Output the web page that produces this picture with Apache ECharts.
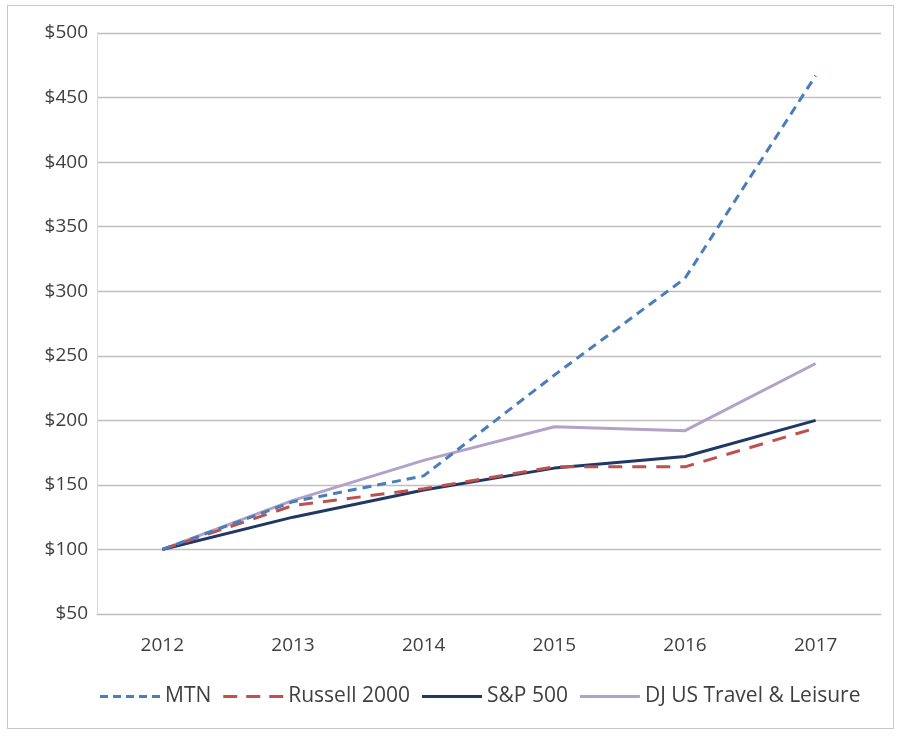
<!DOCTYPE html>
<html>
<head>
<meta charset="utf-8">
<script src="https://cdn.jsdelivr.net/npm/echarts@6/dist/echarts.min.js"></script>
<style>
html,body{margin:0;padding:0;background:#fff;}
#frame{position:absolute;left:7px;top:5px;width:887px;height:724px;border:1px solid #c8c8c8;box-sizing:border-box;}
#chart{position:absolute;left:0;top:0;width:902px;height:736px;}
</style>
</head>
<body>
<div id="frame"></div>
<div id="chart"></div>
<script>
const years = ['2012','2013','2014','2015','2016','2017'];
const mtn = [100, 137, 157, 235, 310, 467];
const russell = [100, 134, 147, 164, 164, 194];
const sp500 = [100, 125, 146, 163, 172, 200];
const djTravel = [100, 138, 169, 195, 192, 244];

const FONT = '"Open Sans", Lato, sans-serif';
const TXT = '#3f3f3f';
const ICON_MTN = 'path://M0,0h8v3H0z M13,0h8v3h-8z M26,0h8v3h-8z M39,0h8v3h-8z M52,0h8v3h-8z';
const ICON_RUS = 'path://M0,0h14v3H0z M23,0h14v3h-14z M46,0h14v3h-14z';
const ICON_SOLID = 'path://M0,0h60v3H0z';
const chart = echarts.init(document.getElementById('chart'));
chart.setOption({
  animation: false,
  backgroundColor: 'transparent',
  grid: {left: 97, right: 21, top: 33, bottom: 122},
  legend: {
    top: 681,
    left: 95,
    itemWidth: 60,
    itemHeight: 3,
    itemGap: 12,
    textStyle: {fontFamily: FONT, fontSize: 21, color: TXT},
    data: [
      {name: 'MTN', icon: ICON_MTN},
      {name: 'Russell 2000', icon: ICON_RUS},
      {name: 'S&P 500', icon: ICON_SOLID},
      {name: 'DJ US Travel & Leisure', icon: ICON_SOLID}
    ]
  },
  xAxis: {
    type: 'category',
    data: years,
    boundaryGap: true,
    axisLine: {lineStyle: {color: '#bfbfbf', width: 1}},
    axisTick: {show: false},
    axisLabel: {fontFamily: FONT, fontSize: 19, color: TXT, margin: 22}
  },
  yAxis: {
    type: 'value',
    min: 50, max: 500, interval: 50,
    axisLine: {show: true, lineStyle: {color: '#d9d9d9'}},
    axisTick: {show: false},
    axisLabel: {fontFamily: FONT, fontSize: 19, color: TXT, margin: 9, formatter: v => '$' + v},
    splitLine: {lineStyle: {color: '#bfbfbf', width: 1.3}}
  },
  series: [
    {name: 'MTN', type: 'line', data: mtn, symbol: 'none', z: 4,
     lineStyle: {color: '#4a7ebb', width: 3, type: [9, 6]}, itemStyle: {color: '#4a7ebb'}},
    {name: 'Russell 2000', type: 'line', data: russell, symbol: 'none', z: 3,
     lineStyle: {color: '#c0504d', width: 3, type: [14, 10]}, itemStyle: {color: '#c0504d'}},
    {name: 'S&P 500', type: 'line', data: sp500, symbol: 'none', z: 2,
     lineStyle: {color: '#1f3864', width: 3}, itemStyle: {color: '#1f3864'}},
    {name: 'DJ US Travel & Leisure', type: 'line', data: djTravel, symbol: 'none', z: 1,
     lineStyle: {color: '#b3a2c7', width: 3}, itemStyle: {color: '#b3a2c7'}}
  ]
});
</script>
</body>
</html>
